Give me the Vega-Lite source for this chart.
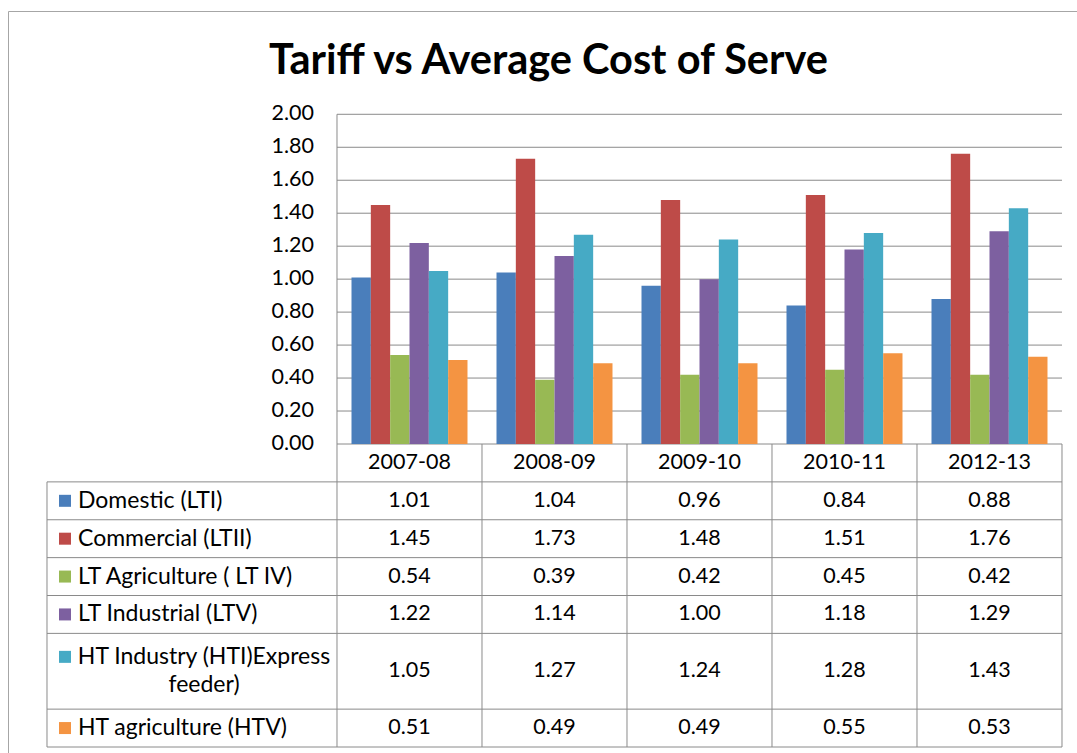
{
  "$schema": "https://vega.github.io/schema/vega-lite/v6.json",
  "width": 1069,
  "height": 742,
  "autosize": {"type": "none"},
  "padding": {"left": 8, "top": 11, "right": 0, "bottom": 0},
  "background": "white",
  "config": {"font": "Lato", "view": {"stroke": "#a6a6a6", "strokeWidth": 1}},
  "title": {"text": "Tariff vs Average Cost of Serve", "font": "Lato", "fontWeight": "bold", "fontSize": 41.5, "anchor": "middle", "offset": -71, "dx": 6, "color": "#000000"},
  "datasets": {
    "values": [
      {"series": "Domestic (LTI)", "year": "2007-08", "value": 1.01},
      {"series": "Domestic (LTI)", "year": "2008-09", "value": 1.04},
      {"series": "Domestic (LTI)", "year": "2009-10", "value": 0.96},
      {"series": "Domestic (LTI)", "year": "2010-11", "value": 0.84},
      {"series": "Domestic (LTI)", "year": "2012-13", "value": 0.88},
      {"series": "Commercial (LTII)", "year": "2007-08", "value": 1.45},
      {"series": "Commercial (LTII)", "year": "2008-09", "value": 1.73},
      {"series": "Commercial (LTII)", "year": "2009-10", "value": 1.48},
      {"series": "Commercial (LTII)", "year": "2010-11", "value": 1.51},
      {"series": "Commercial (LTII)", "year": "2012-13", "value": 1.76},
      {"series": "LT Agriculture ( LT IV)", "year": "2007-08", "value": 0.54},
      {"series": "LT Agriculture ( LT IV)", "year": "2008-09", "value": 0.39},
      {"series": "LT Agriculture ( LT IV)", "year": "2009-10", "value": 0.42},
      {"series": "LT Agriculture ( LT IV)", "year": "2010-11", "value": 0.45},
      {"series": "LT Agriculture ( LT IV)", "year": "2012-13", "value": 0.42},
      {"series": "LT Industrial (LTV)", "year": "2007-08", "value": 1.22},
      {"series": "LT Industrial (LTV)", "year": "2008-09", "value": 1.14},
      {"series": "LT Industrial (LTV)", "year": "2009-10", "value": 1.00},
      {"series": "LT Industrial (LTV)", "year": "2010-11", "value": 1.18},
      {"series": "LT Industrial (LTV)", "year": "2012-13", "value": 1.29},
      {"series": "HT Industry (HTI)Express feeder)", "year": "2007-08", "value": 1.05},
      {"series": "HT Industry (HTI)Express feeder)", "year": "2008-09", "value": 1.27},
      {"series": "HT Industry (HTI)Express feeder)", "year": "2009-10", "value": 1.24},
      {"series": "HT Industry (HTI)Express feeder)", "year": "2010-11", "value": 1.28},
      {"series": "HT Industry (HTI)Express feeder)", "year": "2012-13", "value": 1.43},
      {"series": "HT agriculture (HTV)", "year": "2007-08", "value": 0.51},
      {"series": "HT agriculture (HTV)", "year": "2008-09", "value": 0.49},
      {"series": "HT agriculture (HTV)", "year": "2009-10", "value": 0.49},
      {"series": "HT agriculture (HTV)", "year": "2010-11", "value": 0.55},
      {"series": "HT agriculture (HTV)", "year": "2012-13", "value": 0.53}
    ],
    "labels": [
      {"series": "Domestic (LTI)", "label": "Domestic (LTI)"},
      {"series": "Commercial (LTII)", "label": "Commercial (LTII)"},
      {"series": "LT Agriculture ( LT IV)", "label": "LT Agriculture ( LT IV)"},
      {"series": "LT Industrial (LTV)", "label": "LT Industrial (LTV)"},
      {"series": "HT Industry (HTI)Express feeder)", "label": ["HT Industry (HTI)Express", "feeder)"]},
      {"series": "HT agriculture (HTV)", "label": "HT agriculture (HTV)"}
    ],
    "grid": [
      {"g": 0}, {"g": 0.2}, {"g": 0.4}, {"g": 0.6}, {"g": 0.8}, {"g": 1.0},
      {"g": 1.2}, {"g": 1.4}, {"g": 1.6}, {"g": 1.8}, {"g": 2.0}
    ],
    "one": [{"k": 1}]
  },
  "resolve": {"scale": {"y": "independent"}, "axis": {"y": "independent"}},
  "layer": [
    {
      "layer": [
        {
          "data": {"name": "grid"},
          "mark": {"type": "rule", "color": "#8a8a8a", "strokeWidth": 1},
          "encoding": {
            "y": {"field": "g", "type": "quantitative", "scale": {"domain": [-1.8744, 2.6266], "nice": false, "zero": false}, "axis": null},
            "x": {"datum": "2007-08", "type": "nominal", "bandPosition": 0, "scale": {"type": "band", "domain": ["_l1", "_l2", "2007-08", "2008-09", "2009-10", "2010-11", "2012-13"], "paddingInner": 0, "paddingOuter": 0.1862, "align": 0.7222}, "axis": null},
            "x2": {"datum": "2012-13", "bandPosition": 1}
          }
        },
        {
          "data": {"name": "grid"},
          "mark": {"type": "text", "font": "Lato", "fontSize": 21.5, "color": "#000000", "align": "right", "baseline": "middle", "dx": -23},
          "encoding": {
            "y": {"field": "g", "type": "quantitative", "axis": null},
            "x": {"datum": "2007-08", "type": "nominal", "bandPosition": 0, "axis": null},
            "text": {"field": "g", "type": "quantitative", "format": ".2f"}
          }
        },
        {
          "data": {"name": "one"},
          "mark": {"type": "rule", "color": "#8a8a8a", "strokeWidth": 1},
          "encoding": {
            "x": {"datum": "2007-08", "type": "nominal", "bandPosition": 0, "axis": null},
            "y": {"datum": 0, "type": "quantitative", "axis": null},
            "y2": {"datum": 2}
          }
        },
        {
          "data": {"name": "values"},
          "mark": {"type": "bar"},
          "encoding": {
            "x": {"field": "year", "type": "nominal", "scale": {"type": "band", "domain": ["_l1", "_l2", "2007-08", "2008-09", "2009-10", "2010-11", "2012-13"], "paddingInner": 0, "paddingOuter": 0.1862, "align": 0.7222}, "axis": null},
            "xOffset": {"field": "series", "type": "nominal", "scale": {"domain": ["Domestic (LTI)", "Commercial (LTII)", "LT Agriculture ( LT IV)", "LT Industrial (LTV)", "HT Industry (HTI)Express feeder)", "HT agriculture (HTV)"], "paddingInner": 0, "paddingOuter": 0.75}},
            "y": {"field": "value", "type": "quantitative", "scale": {"domain": [-1.8744, 2.6266], "nice": false, "zero": false}, "axis": null},
            "y2": {"datum": 0},
            "color": {"field": "series", "type": "nominal", "scale": {"domain": ["Domestic (LTI)", "Commercial (LTII)", "LT Agriculture ( LT IV)", "LT Industrial (LTV)", "HT Industry (HTI)Express feeder)", "HT agriculture (HTV)"], "range": ["#4A7EBB", "#BE4B48", "#98B954", "#7D60A0", "#46AAC5", "#F49442"]}, "legend": null}
          }
        }
      ]
    },
    {
      "layer": [
        {
          "data": {"name": "labels"},
          "mark": {"type": "rule", "color": "#8a8a8a", "strokeWidth": 1},
          "encoding": {
            "y": {"field": "series", "type": "nominal", "bandPosition": 0, "scale": {"type": "band", "domain": ["_hdr", "Domestic (LTI)", "Commercial (LTII)", "LT Agriculture ( LT IV)", "LT Industrial (LTV)", "HT Industry (HTI)Express feeder)", "_s5b", "HT agriculture (HTV)"], "paddingInner": 0, "paddingOuter": 0, "range": [433, 736]}, "axis": null},
            "x": {"datum": "_l1", "type": "nominal", "bandPosition": 0},
            "x2": {"datum": "2012-13", "bandPosition": 1}
          }
        },
        {
          "data": {"name": "one"},
          "mark": {"type": "rule", "color": "#8a8a8a", "strokeWidth": 1},
          "encoding": {
            "y": {"datum": "HT agriculture (HTV)", "type": "nominal", "bandPosition": 1},
            "x": {"datum": "_l1", "type": "nominal", "bandPosition": 0},
            "x2": {"datum": "2012-13", "bandPosition": 1}
          }
        },
        {
          "data": {"name": "values"},
          "transform": [{"filter": "datum.series == 'Domestic (LTI)'"}],
          "mark": {"type": "rule", "color": "#8a8a8a", "strokeWidth": 1},
          "encoding": {
            "x": {"field": "year", "type": "nominal", "bandPosition": 0},
            "y": {"datum": "_hdr", "type": "nominal", "bandPosition": 0},
            "y2": {"datum": "HT agriculture (HTV)", "bandPosition": 1}
          }
        },
        {
          "data": {"name": "one"},
          "mark": {"type": "rule", "color": "#8a8a8a", "strokeWidth": 1},
          "encoding": {
            "x": {"datum": "2012-13", "type": "nominal", "bandPosition": 1},
            "y": {"datum": "_hdr", "type": "nominal", "bandPosition": 0},
            "y2": {"datum": "HT agriculture (HTV)", "bandPosition": 1}
          }
        },
        {
          "data": {"name": "one"},
          "mark": {"type": "rule", "color": "#8a8a8a", "strokeWidth": 1},
          "encoding": {
            "x": {"datum": "_l1", "type": "nominal", "bandPosition": 0},
            "y": {"datum": "Domestic (LTI)", "type": "nominal", "bandPosition": 0},
            "y2": {"datum": "HT agriculture (HTV)", "bandPosition": 1}
          }
        },
        {
          "data": {"name": "values"},
          "transform": [{"filter": "datum.series == 'Domestic (LTI)'"}],
          "mark": {"type": "text", "font": "Lato", "fontSize": 21.5, "color": "#000000", "baseline": "middle"},
          "encoding": {
            "x": {"field": "year", "type": "nominal"},
            "y": {"datum": "_hdr", "type": "nominal"},
            "text": {"field": "year", "type": "nominal"}
          }
        },
        {
          "data": {"name": "values"},
          "transform": [{"filter": "datum.series != 'HT Industry (HTI)Express feeder)'"}],
          "mark": {"type": "text", "font": "Lato", "fontSize": 21.5, "color": "#000000", "baseline": "middle"},
          "encoding": {
            "x": {"field": "year", "type": "nominal"},
            "y": {"field": "series", "type": "nominal"},
            "text": {"field": "value", "type": "quantitative", "format": ".2f"}
          }
        },
        {
          "data": {"name": "values"},
          "transform": [{"filter": "datum.series == 'HT Industry (HTI)Express feeder)'"}],
          "mark": {"type": "text", "font": "Lato", "fontSize": 21.5, "color": "#000000", "baseline": "middle"},
          "encoding": {
            "x": {"field": "year", "type": "nominal"},
            "y": {"field": "series", "type": "nominal", "bandPosition": 1},
            "text": {"field": "value", "type": "quantitative", "format": ".2f"}
          }
        },
        {
          "data": {"name": "labels"},
          "transform": [{"filter": "datum.series != 'HT Industry (HTI)Express feeder)'"}],
          "mark": {"type": "point", "shape": "square", "size": 144, "filled": true, "opacity": 1, "xOffset": 18},
          "encoding": {
            "x": {"datum": "_l1", "type": "nominal", "bandPosition": 0},
            "y": {"field": "series", "type": "nominal"},
            "color": {"field": "series", "type": "nominal", "legend": null}
          }
        },
        {
          "data": {"name": "labels"},
          "transform": [{"filter": "datum.series == 'HT Industry (HTI)Express feeder)'"}],
          "mark": {"type": "point", "shape": "square", "size": 144, "filled": true, "opacity": 1, "xOffset": 18},
          "encoding": {
            "x": {"datum": "_l1", "type": "nominal", "bandPosition": 0},
            "y": {"field": "series", "type": "nominal", "bandPosition": 0.62},
            "color": {"field": "series", "type": "nominal", "legend": null}
          }
        },
        {
          "data": {"name": "labels"},
          "transform": [{"filter": "datum.series != 'HT Industry (HTI)Express feeder)'"}],
          "mark": {"type": "text", "font": "Lato", "fontSize": 23, "color": "#000000", "align": "left", "baseline": "middle", "dx": 31},
          "encoding": {
            "x": {"datum": "_l1", "type": "nominal", "bandPosition": 0},
            "y": {"field": "series", "type": "nominal"},
            "text": {"field": "label", "type": "nominal"}
          }
        },
        {
          "data": {"name": "labels"},
          "transform": [{"filter": "datum.series == 'HT Industry (HTI)Express feeder)'"}],
          "mark": {"type": "text", "font": "Lato", "fontSize": 23, "color": "#000000", "align": "center", "baseline": "middle", "dx": 157, "dy": -14, "lineHeight": 28},
          "encoding": {
            "x": {"datum": "_l1", "type": "nominal", "bandPosition": 0},
            "y": {"field": "series", "type": "nominal", "bandPosition": 1},
            "text": {"field": "label", "type": "nominal"}
          }
        }
      ]
    }
  ]
}
